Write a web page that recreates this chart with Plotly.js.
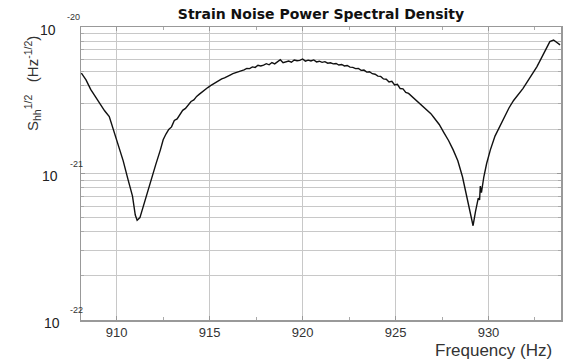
<!DOCTYPE html>
<html>
<head>
<meta charset="utf-8">
<script src="https://cdn.plot.ly/plotly-3.0.1.min.js"></script>
<style>html,body{margin:0;padding:0;background:#fff;}#chart{width:573px;height:362px;}</style>
</head>
<body>
<div id="chart"></div>
<script>
// Frequency (Hz)
const freq = [908.10,908.35,908.60,908.85,909.10,909.35,909.60,909.85,910.10,910.35,910.60,910.85,911.00,911.10,911.25,911.40,911.60,911.85,912.10,912.35,
912.50,912.65,912.80,912.95,913.10,913.25,913.40,913.55,913.70,913.85,914.00,914.15,914.30,914.45,914.60,914.75,914.90,915.05,915.20,915.35,
915.50,915.65,915.80,915.95,916.10,916.25,916.40,916.55,916.70,916.85,917.00,917.15,917.30,917.45,917.60,917.75,917.90,918.05,918.20,918.35,
918.50,918.65,918.80,918.95,919.10,919.25,919.40,919.55,919.70,919.85,920.00,920.15,920.30,920.45,920.60,920.75,920.90,921.05,921.20,921.35,
921.50,921.65,921.80,921.95,922.10,922.25,922.40,922.55,922.70,922.85,923.00,923.15,923.30,923.45,923.60,923.75,923.90,924.05,924.20,924.35,
924.50,924.65,924.80,924.95,925.10,925.25,925.40,925.55,925.70,925.85,926.00,926.15,926.30,926.45,926.60,926.75,926.90,927.05,927.20,927.35,
927.60,927.85,928.10,928.35,928.60,928.85,929.05,929.17,929.30,929.45,929.52,929.56,929.62,929.75,929.90,930.10,930.35,930.60,930.85,931.10,
931.35,931.60,931.85,932.10,932.35,932.60,932.85,933.10,933.30,933.50,933.65,933.85];
// Strain noise amplitude spectral density, units of 1e-21 Hz^-1/2
const asd = [4.85,4.35,3.75,3.35,3.00,2.68,2.45,1.95,1.52,1.22,0.92,0.70,0.52,0.48,0.50,0.58,0.73,0.92,1.15,1.45,
1.70,1.86,2.00,2.08,2.30,2.36,2.55,2.70,2.78,2.92,3.10,3.18,3.36,3.48,3.62,3.72,3.86,3.98,4.10,4.20,
4.30,4.42,4.50,4.62,4.70,4.80,4.86,4.98,5.04,5.10,5.22,5.20,5.34,5.30,5.48,5.42,5.50,5.62,5.52,5.72,
5.60,5.75,5.98,5.70,5.78,5.85,5.75,5.95,5.88,5.92,6.05,5.85,5.94,5.86,5.96,5.78,5.84,5.74,5.80,5.66,
5.70,5.60,5.64,5.50,5.55,5.42,5.46,5.32,5.30,5.20,5.22,5.06,5.08,4.92,4.95,4.80,4.76,4.62,4.60,4.42,
4.40,4.22,4.26,4.02,4.06,3.80,3.78,3.58,3.52,3.38,3.28,3.15,3.04,2.92,2.80,2.66,2.56,2.42,2.30,2.16,
1.90,1.68,1.45,1.22,0.95,0.68,0.52,0.44,0.55,0.68,0.66,0.82,0.74,0.95,1.17,1.45,1.80,2.08,2.45,2.80,
3.15,3.45,3.80,4.25,4.75,5.35,6.15,7.05,7.95,8.15,7.90,7.55];
const xTickVals = [910,915,920,925,930];
const xTickText = ['910','915','920','925','930'];
const yTickExps = [-20,-21,-22];

const yVals = asd.map(v => v * 1e-21);

const L = 81, R = 561, T = 27, B = 320, W = 573, H = 362;
const px = p => (p - L) / (R - L);
const py = p => (B - p) / (B - T);
const yPix = e => T + (-20 - e) * (B - T) / 2;
const FONT = 'Liberation Sans, Arial, sans-serif';

const annotations = [];
yTickExps.forEach((e, i) => {
  const yp = yPix(e);
  annotations.push({xref:'paper', yref:'paper', x:px(48 + i*2), y:py(yp + 3), xanchor:'center', yanchor:'middle',
    text:'10', showarrow:false, font:{family:FONT, size:14, color:'#222'}});
  annotations.push({xref:'paper', yref:'paper', x:px(73 + (i>0?3:0)), y:py(yp - 10), xanchor:'center', yanchor:'middle',
    text:String(e), showarrow:false, font:{family:FONT, size:9, color:'#333'}});
});
annotations.push({xref:'paper', yref:'paper', x:px(493), y:py(350), xanchor:'center', yanchor:'middle',
  text:'Frequency (Hz)', showarrow:false, font:{family:FONT, size:17, color:'#333'}});
annotations.push({xref:'paper', yref:'paper', x:px(32), y:py(84), xanchor:'center', yanchor:'middle',
  text:'S<sub>hh</sub><sup>1/2</sup>   (Hz<sup>-1/2</sup>)', textangle:-90, showarrow:false,
  font:{family:FONT, size:15, color:'#333'}});

const trace = {x: freq, y: yVals, type:'scatter', mode:'lines', line:{color:'#111', width:1.4}, hoverinfo:'skip'};

const layout = {
  width: W, height: H,
  margin:{l:L, r:W-R, t:T, b:H-B},
  paper_bgcolor:'#fff', plot_bgcolor:'#fff',
  showlegend:false,
  title:{text:'<b>Strain Noise Power Spectral Density</b>', x:321/W, xanchor:'center', y:1-14/H, yanchor:'middle',
    font:{family:'DejaVu Sans, sans-serif', size:14, color:'#111'}},
  xaxis:{range:[908.08,933.9], tickvals:xTickVals, ticktext:xTickText, showgrid:true, gridcolor:'#c8c8c8', gridwidth:1,
    ticks:'inside', ticklen:4, tickcolor:'#999', showline:true, linecolor:'#999', linewidth:1.5, mirror:'ticks', zeroline:false,
    minor:{dtick:2.5, tick0:910, ticks:'inside', ticklen:3, tickcolor:'#aaa', showgrid:false},
    tickfont:{family:FONT, size:13, color:'#333'}},
  yaxis:{type:'log', range:[-22,-20], dtick:1, showticklabels:false, showgrid:true, gridcolor:'#c8c8c8', gridwidth:1,
    ticks:'inside', ticklen:4, tickcolor:'#999', showline:true, linecolor:'#999', linewidth:1.5, mirror:'ticks', zeroline:false,
    minor:{dtick:'D1', showgrid:true, gridcolor:'#c8c8c8', gridwidth:1, ticks:'inside', ticklen:3, tickcolor:'#aaa'}},
  annotations: annotations
};

Plotly.newPlot('chart', [trace], layout, {displayModeBar:false, staticPlot:true});
</script>
</body>
</html>
